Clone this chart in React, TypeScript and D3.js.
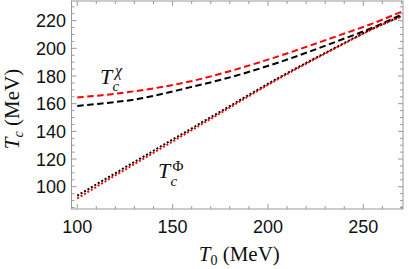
import React from "react";
import * as d3 from "d3";

const W = 409;
const H = 269;

const t0 = [100, 112, 130, 159, 180, 206, 238, 255, 270];
const chiRed = [164.5, 166, 169, 176, 183.5, 194.5, 209.7, 218, 226.5];
const chiBlack = [158.4, 160, 163, 171.8, 179, 190, 206, 215, 224.3];

const t0Phi = [100, 112, 140, 170, 206, 238, 255, 270];
const phiRed = [91.5, 101.6, 124.5, 149, 178.3, 202, 214, 223];
const phiBlack = [93.5, 103.3, 126, 150.2, 179, 202.4, 214.3, 223.3];

const xTicks = [100, 150, 200, 250];
const yTicks = [100, 120, 140, 160, 180, 200, 220];

export default function App() {
  const left = 71.5, right = 403, top = 1, bottom = 209;
  const x = d3.scaleLinear().domain([97, 270.8]).range([left, right]);
  const y = d3.scaleLinear().domain([83.9, 234.2]).range([bottom, top]);

  const line = (xs: number[], ys: number[]) =>
    d3.line<number>()
      .x((_, i) => x(xs[i]))
      .y((d) => y(d))
      .curve(d3.curveMonotoneX)(ys) || "";

  const xMinor = d3.range(100, 271, 10);
  const yMinor = d3.range(85, 235, 5);
  const frame = "#999";
  const serif = "Liberation Serif, Times New Roman, serif";
  const sans = "Liberation Sans, Arial, sans-serif";

  return (
    <svg width={W} height={H} style={{ position: "absolute", left: 0, top: 0 }}>
      <rect x={0} y={0} width={W} height={H} fill="white" />
      {xMinor.map((v) => {
        const major = v % 50 === 0;
        const len = major ? 5 : 3;
        return (
          <g key={"xt" + v}>
            <line x1={x(v)} x2={x(v)} y1={bottom} y2={bottom - len} stroke={frame} strokeWidth={1} />
            <line x1={x(v)} x2={x(v)} y1={top} y2={top + len} stroke={frame} strokeWidth={1} />
          </g>
        );
      })}
      {yMinor.map((v) => {
        const major = v % 20 === 0;
        const len = major ? 5 : 3;
        return (
          <g key={"yt" + v}>
            <line x1={left} x2={left + len} y1={y(v)} y2={y(v)} stroke={frame} strokeWidth={1} />
            <line x1={right} x2={right - len} y1={y(v)} y2={y(v)} stroke={frame} strokeWidth={1} />
          </g>
        );
      })}
      <rect x={left} y={top} width={right - left} height={bottom - top} fill="none" stroke={frame} strokeWidth={1} />
      {xTicks.map((v) => (
        <text key={"xl" + v} x={x(v)} y={232.5} textAnchor="middle" fontFamily={sans} fontSize={18} fill="#111">
          {v}
        </text>
      ))}
      {yTicks.map((v) => (
        <text key={"yl" + v} x={66} y={y(v) + 6.5} textAnchor="end" fontFamily={sans} fontSize={18} fill="#111">
          {v}
        </text>
      ))}
      <path d={line(t0, chiBlack)} fill="none" stroke="black" strokeWidth={2} strokeDasharray="6.5,3.5" />
      <path d={line(t0, chiRed)} fill="none" stroke="#ff0000" strokeWidth={2} strokeDasharray="6.5,3.5" />
      <path d={line(t0Phi, phiBlack)} fill="none" stroke="black" strokeWidth={2} strokeDasharray="2,2" />
      <path d={line(t0Phi, phiRed)} fill="none" stroke="#ff0000" strokeWidth={2} strokeDasharray="2,2" />
      {/* curve labels */}
      <text x={100} y={83.5} fontFamily={serif} fontStyle="italic" fontSize={22} fill="#111">T</text>
      <text x={112.5} y={91} fontFamily={serif} fontStyle="italic" fontSize={15} fill="#111">c</text>
      <text x={115} y={76} fontFamily={serif} fontStyle="italic" fontSize={16} fill="#111">χ</text>
      <text x={158} y={178} fontFamily={serif} fontStyle="italic" fontSize={22} fill="#111">T</text>
      <text x={170.5} y={186} fontFamily={serif} fontStyle="italic" fontSize={15} fill="#111">c</text>
      <text x={172.5} y={171} fontFamily={serif} fontSize={15} fill="#111">Φ</text>
      {/* axis titles */}
      <text x={(left + right) / 2 + 2} y={261} textAnchor="middle" fontFamily={serif} fontSize={21} fill="#111">
        <tspan fontStyle="italic">T</tspan>
        <tspan fontSize={14} dy={4}>0</tspan>
        <tspan dy={-4}> (MeV)</tspan>
      </text>
      <text transform={`translate(19, ${(top + bottom) / 2 + 4}) rotate(-90)`} textAnchor="middle" fontFamily={serif} fontSize={21} fill="#111">
        <tspan fontStyle="italic">T</tspan>
        <tspan fontStyle="italic" fontSize={14} dy={4}>c</tspan>
        <tspan dy={-4}> (MeV)</tspan>
      </text>
    </svg>
  );
}
